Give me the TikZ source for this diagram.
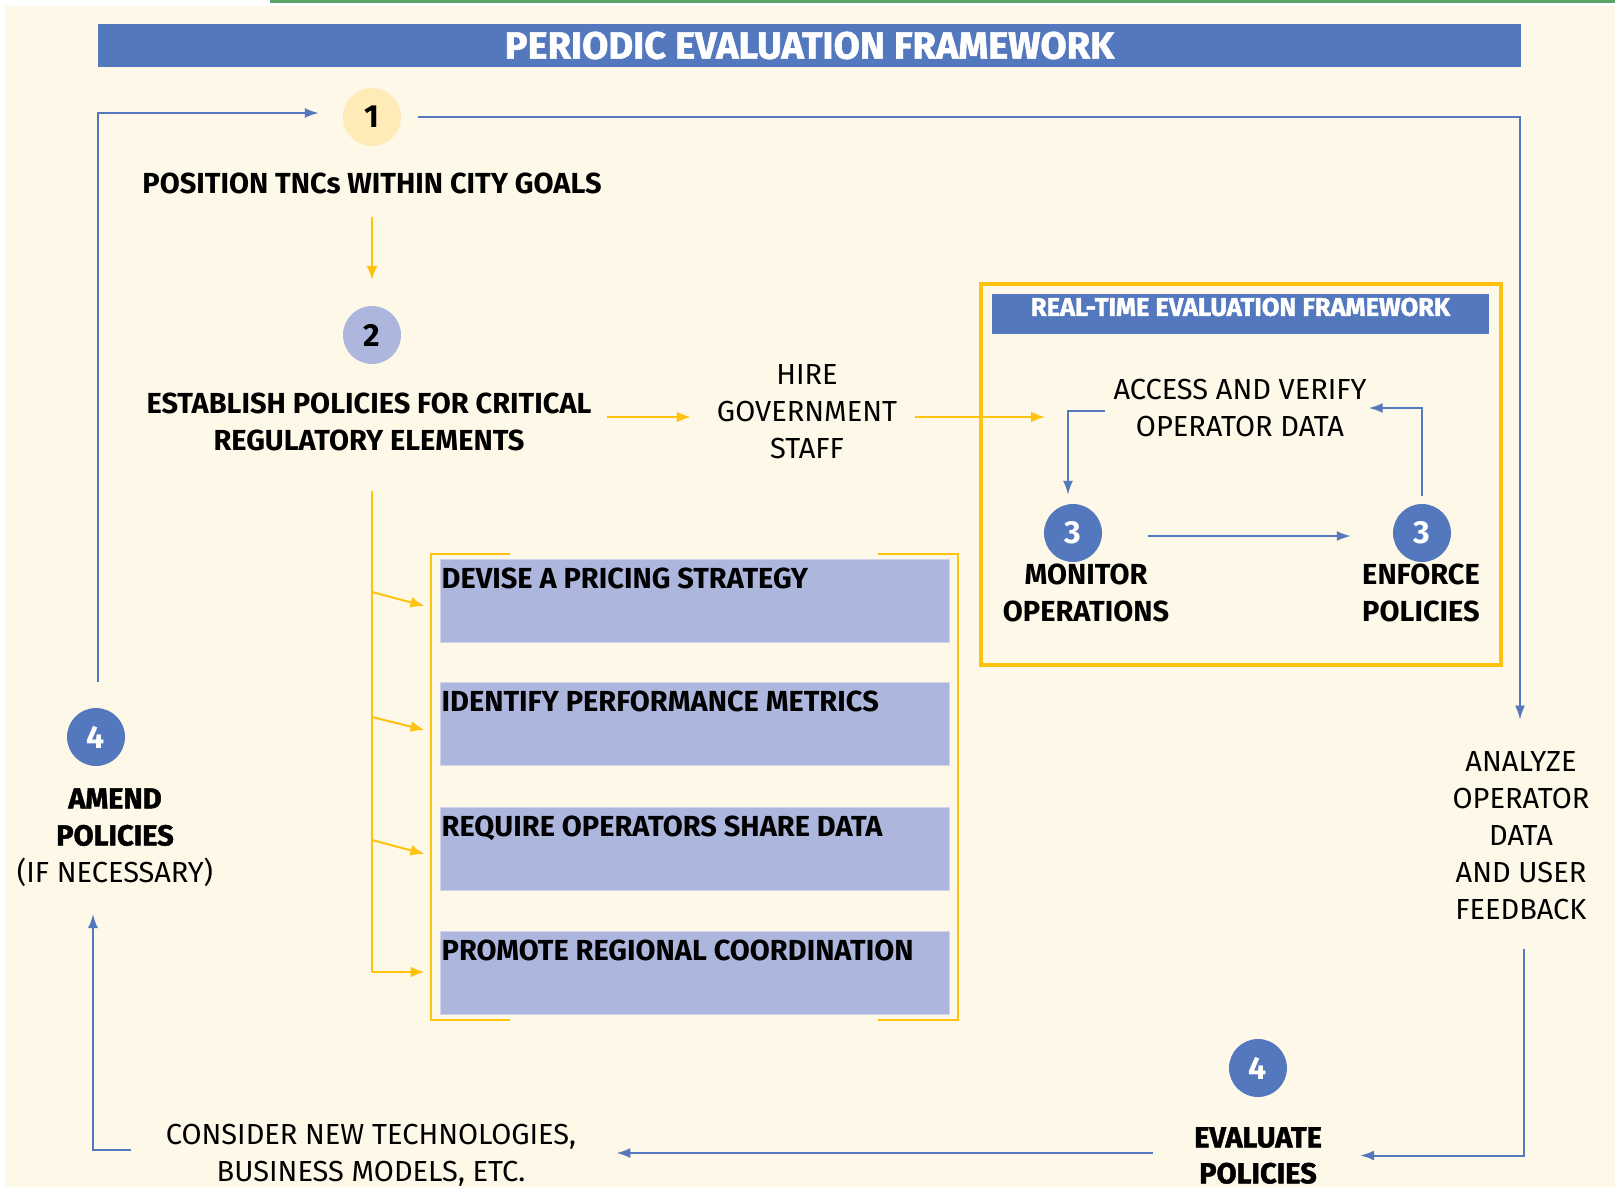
\documentclass[tikz,border=0pt]{standalone}
\usepackage{fontspec}
\setmainfont{Fira Sans}
\newfontfamily\heavyfont{Fira Sans}[BoldFeatures={FakeBold=1.5}]
\usetikzlibrary{arrows.meta}

\definecolor{cream}{HTML}{FDF8E7}
\definecolor{pblue}{HTML}{5478BE}
\definecolor{pyellow}{HTML}{FFC20E}
\definecolor{lilac}{HTML}{ADB7DE}
\definecolor{pale}{HTML}{FFEBB8}
\definecolor{topgreen}{HTML}{5BA56A}

\begin{document}
\begin{tikzpicture}[x=1pt,y=-1pt,
    lbl/.style={align=center,inner sep=0pt,font=\fontsize{29}{37}\selectfont},
    blbl/.style={align=center,inner sep=0pt,font=\fontsize{29}{37}\selectfont\bfseries},
    hlbl/.style={align=center,inner sep=0pt,font=\fontsize{29}{36}\selectfont\heavyfont\bfseries},
    numdot/.style={circle,minimum size=58pt,inner sep=0pt,font=\fontsize{32}{32}\selectfont\bfseries},
    bluearr/.style={draw=pblue,line width=2pt,-{Latex[length=14pt,width=10pt]}},
    yelarr/.style={draw=pyellow,line width=2pt,-{Latex[length=14pt,width=11pt]}},
    task/.style={fill=lilac,draw=lilac!60!white,line width=1pt,minimum width=509pt,minimum height=83pt,inner sep=0pt}]
        \useasboundingbox (0,0) rectangle (1615,1187);
        % page and top rule
        \fill[white] (0,0) rectangle (1615,1187);
        \fill[cream] (5,6) rectangle (1615,1187);
        \fill[topgreen] (270,0) rectangle (1615,3);

        % headline
        \node[fill=pblue,minimum width=1423pt,minimum height=43pt,inner sep=0pt,text=white,
              font=\fontsize{38}{38}\selectfont\heavyfont\bfseries] (title) at (809.5,45.5) {PERIODIC EVALUATION FRAMEWORK};

        % steps 1 and 2
        \node[numdot,fill=pale] (c1) at (372,117) {1};
        \node[blbl] (pos) at (372,183) {POSITION TNCs WITHIN CITY GOALS};
        \node[numdot,fill=lilac] (c2) at (372,335) {2};
        \node[blbl] (est) at (369,421.5) {ESTABLISH POLICIES FOR CRITICAL\\REGULATORY ELEMENTS};
        \node[lbl] (hire) at (807,412) {HIRE\\GOVERNMENT\\STAFF};

        % real-time loop
        \draw[pyellow,line width=4pt] (981,284) rectangle (1501,665);
        \node[fill=pblue,minimum width=497pt,minimum height=40pt,inner sep=0pt] (rtbar) at (1240.5,314) {};
        \node[text=white,inner sep=0pt,font=\fontsize{25.5}{25.5}\selectfont\heavyfont\bfseries] (rttitle)
              at ([yshift=7pt]rtbar.center) {REAL-TIME EVALUATION FRAMEWORK};
        \node[lbl] (acc) at (1240,408) {ACCESS AND VERIFY\\OPERATOR DATA};
        \node[numdot,fill=pblue,text=white] (c3a) at (1073,533) {3};
        \node[blbl] (mon) at (1086,592.5) {MONITOR\\OPERATIONS};
        \node[numdot,fill=pblue,text=white] (c3b) at (1422,533) {3};
        \node[blbl] (enf) at (1421,592.5) {ENFORCE\\POLICIES};
        \coordinate (accin) at (1045,417);

        % policy elements
        \draw[pyellow,line width=2pt] (510,554) -- (431,554) -- (431,1020) -- (510,1020);
        \draw[pyellow,line width=2pt] (878,554) -- (958,554) -- (958,1020) -- (878,1020);
        \node[task,label={[anchor=north west,inner sep=0pt,xshift=2pt,yshift=-9pt,font=\fontsize{29}{29}\selectfont\bfseries]north west:DEVISE A PRICING STRATEGY}] (b1) at (694.5,600.5) {};
        \node[task,label={[anchor=north west,inner sep=0pt,xshift=2pt,yshift=-9pt,font=\fontsize{29}{29}\selectfont\bfseries]north west:IDENTIFY PERFORMANCE METRICS}] (b2) at (694.5,724) {};
        \node[task,label={[anchor=north west,inner sep=0pt,xshift=2pt,yshift=-9pt,font=\fontsize{29}{29}\selectfont\bfseries]north west:REQUIRE OPERATORS SHARE DATA}] (b3) at (694.5,849) {};
        \node[task,label={[anchor=north west,inner sep=0pt,xshift=2pt,yshift=-9pt,font=\fontsize{29}{29}\selectfont\bfseries]north west:PROMOTE REGIONAL COORDINATION}] (b4) at (694.5,972.5) {};
        \coordinate (sp0) at (372,491);
        \coordinate (sp1) at (372,592);
        \coordinate (sp2) at (372,717);
        \coordinate (sp3) at (372,840);
        \coordinate (sp4) at (372,972);

        % steps 4 and the outer loop
        \node[lbl] (ana) at (1521,836) {ANALYZE\\OPERATOR\\DATA\\AND USER\\FEEDBACK};
        \node[numdot,fill=pblue,text=white] (c4b) at (1258,1068) {4};
        \node[hlbl] (eval) at (1258,1155.5) {EVALUATE\\POLICIES};
        \node[lbl] (cons) at (371,1155.5) {CONSIDER NEW TECHNOLOGIES,\\BUSINESS MODELS, ETC.};
        \node[numdot,fill=pblue,text=white] (c4a) at (96,737) {4};
        \node[lbl] (amd) at (115,837.5) {{\heavyfont\bfseries AMEND}\\{\heavyfont\bfseries POLICIES}\\(IF NECESSARY)};
        \coordinate (amdin) at (93,914);

        % yellow flow
        \draw[yelarr] ([yshift=-23pt]pos.south) -- ([yshift=26pt]c2.north);
        \draw[yelarr] ([xshift=15pt,yshift=4.5pt]est.east) -- ([xshift=-26pt,yshift=-5pt]hire.west);
        \draw[yelarr] ([xshift=18pt,yshift=-5pt]hire.east) -- (accin);
        \draw[pyellow,line width=2pt] (sp0) -- (sp4);
        \draw[yelarr] (sp1) -- ([xshift=-15pt,yshift=-5.5pt]b1.west);
        \draw[yelarr] (sp2) -- ([xshift=-15pt,yshift=-6pt]b2.west);
        \draw[yelarr] (sp3) -- ([xshift=-15pt,yshift=-5pt]b3.west);
        \draw[yelarr] (sp4) -- ([xshift=-15pt,yshift=0.5pt]b4.west);

        % blue flow
        \draw[bluearr] ([xshift=-8pt,yshift=-3pt]acc.west) -| ([xshift=-5pt,yshift=9pt]c3a.north);
        \draw[bluearr] ([xshift=46pt,yshift=-3pt]c3a.east) -- ([xshift=-42pt,yshift=-3pt]c3b.west);
        \draw[bluearr] ([yshift=8pt]c3b.north) |- ([xshift=2pt]acc.east);
        \draw[bluearr] ([xshift=17pt]c1.east) -| ([xshift=-1pt,yshift=32pt]ana.north);
        \draw[bluearr] ([xshift=3pt,yshift=-29pt]ana.south) |- ([xshift=38pt]eval.east);
        \draw[bluearr] ([xshift=-41pt,yshift=2.5pt]eval.west) -- ([xshift=40pt,yshift=2.5pt]cons.east);
        \draw[bluearr] ([xshift=-35pt,yshift=5.5pt]cons.west) -| (amdin);
        \draw[bluearr] ([xshift=2pt,yshift=26pt]c4a.north) |- ([xshift=-24pt,yshift=4pt]c1.west);
      \end{tikzpicture}
\end{document}
